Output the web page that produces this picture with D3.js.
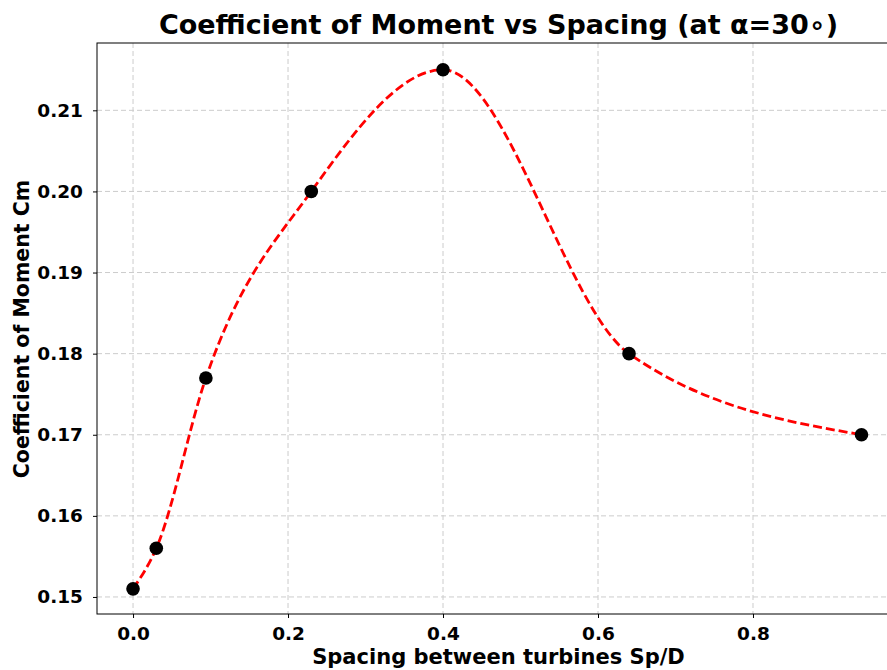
<!DOCTYPE html>
<html>
<head>
<meta charset="utf-8">
<script src="https://cdn.jsdelivr.net/npm/d3@7"></script>
<style>
  body { margin: 0; background: #fff; overflow: hidden; }
  text { font-family: "DejaVu Sans", sans-serif; font-weight: bold; }
</style>
</head>
<body>
<svg id="chart" width="887" height="670"></svg>
<script>
// ---data---
var spacing = [0, 0.03, 0.094, 0.23, 0.4, 0.64, 0.94]
var moment  = [0.151, 0.156, 0.177, 0.200, 0.215, 0.180, 0.170]
var xTicks = [0.0, 0.2, 0.4, 0.6, 0.8]
var yTicks = [0.15, 0.16, 0.17, 0.18, 0.19, 0.20, 0.21]

var svg = d3.select("#chart")
//---plot box (note: "top" is taken by window)---
//---right edge runs past the picture, like the original---
var pLeft = 97, pRight = 900, pTop = 43, pBottom = 614

var x = d3.scaleLinear().domain([-0.0465, 0.9897]).range([pLeft, pRight])
var y = d3.scaleLinear().domain([0.1479, 0.2183]).range([pBottom, pTop])

// ---grid---
var grid = svg.append("g")
grid.selectAll(".gx").data(xTicks).enter().append("line")
    .attr("x1", d => x(d)).attr("x2", d => x(d))
    .attr("y1", pTop).attr("y2", pBottom)
grid.selectAll(".gy").data(yTicks).enter().append("line")
    .attr("x1", pLeft).attr("x2", pRight)
    .attr("y1", d => y(d)).attr("y2", d => y(d))
grid.selectAll("line")
    .attr("stroke", "#cccccc").attr("stroke-width", 1)
    .attr("stroke-dasharray", "5,3")

// ---curve---
var line = d3.line()
    .x((d, i) => x(spacing[i]))
    .y(d => y(d))
    .curve(d3.curveMonotoneX)
svg.append("path")
    .attr("d", line(moment))
    .attr("fill", "none")
    .attr("stroke", "red")
    .attr("stroke-width", 2.8)
    .attr("stroke-dasharray", "9,4")

// ---points---
svg.selectAll(".pt").data(moment).enter().append("circle")
    .attr("cx", (d, i) => x(spacing[i]))
    .attr("cy", d => y(d))
    .attr("r", 6.8)
    .attr("fill", "black")

// ---axes---
svg.append("g").attr("transform", "translate(0," + pBottom + ")")
    .call(d3.axisBottom(x).tickValues(xTicks).tickFormat(d3.format(".1f")).tickSizeOuter(0).tickSize(4).tickPadding(9))
svg.append("g").attr("transform", "translate(" + pLeft + ",0)")
    .call(d3.axisLeft(y).tickValues(yTicks).tickFormat(d3.format(".2f")).tickSizeOuter(0).tickSize(4).tickPadding(10))
svg.selectAll(".domain").remove()
svg.selectAll(".tick text").attr("font-size", 18.5).attr("fill", "black")
    .style("font-family", "DejaVu Sans").style("font-weight", "bold")
svg.selectAll(".tick line").attr("stroke", "black")

// ---frame---
svg.append("rect")
    .attr("x", pLeft).attr("y", pTop)
    .attr("width", pRight - pLeft).attr("height", pBottom - pTop)
    .attr("fill", "none").attr("stroke", "black").attr("stroke-width", 1)

// ---labels---
svg.append("text")
    .attr("x", (pLeft + pRight) / 2).attr("y", 34)
    .attr("text-anchor", "middle").attr("font-size", 27)
    .text("Coefficient of Moment vs Spacing (at α=30∘)")
svg.append("text")
    .attr("x", (pLeft + pRight) / 2).attr("y", 664)
    .attr("text-anchor", "middle").attr("font-size", 21)
    .text("Spacing between turbines Sp/D")
svg.append("text")
    .attr("transform", "translate(28.5,329) rotate(-90)")
    .attr("text-anchor", "middle").attr("font-size", 20.5)
    .text("Coefficient of Moment Cm")
</script>
</body>
</html>
